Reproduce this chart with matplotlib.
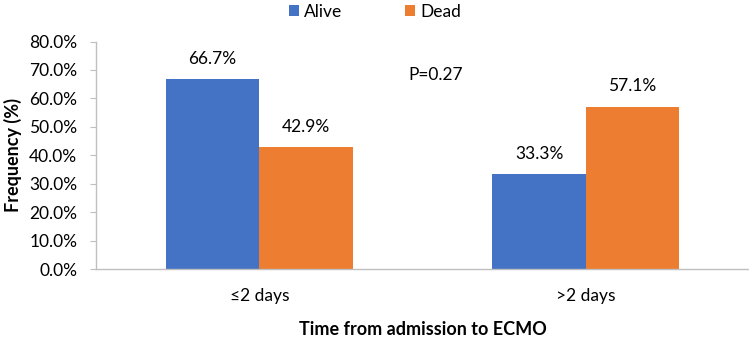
import matplotlib
matplotlib.use("Agg")
import matplotlib.pyplot as plt
import numpy as np
from matplotlib.ticker import FuncFormatter

categories = ["≤2 days", ">2 days"]
alive = [66.7, 33.3]
dead = [42.9, 57.1]
series_names = ["Alive", "Dead"]
yticks = [0, 10, 20, 30, 40, 50, 60, 70, 80]

plt.rcParams['font.family'] = ['Lato', 'DejaVu Sans']
FS = 12.5

fig = plt.figure(figsize=(7.49, 3.37), dpi=100)
ax = fig.add_axes([96/749, 1-269/337, (749-96)/749, (269-41.5)/337])

x = np.arange(len(categories))
w = 0.286
b1 = ax.bar(x - w/2, alive, w, color="#4472C4", label=series_names[0])
b2 = ax.bar(x + w/2, dead, w, color="#ED7D31", label=series_names[1])

for bars, vals in ((b1, alive), (b2, dead)):
    for r, v in zip(bars, vals):
        ax.annotate(f"{v:.1f}%", (r.get_x() + r.get_width()/2, v), xytext=(0, 9),
                    textcoords="offset points", ha="center", va="bottom", fontsize=FS)

ax.text(0.54, 68.2, "P=0.27", ha="center", va="center", fontsize=FS)

ax.set_xlim(-0.5, 1.5)
ax.set_ylim(0, 80)
ax.set_yticks(yticks)
ax.yaxis.set_major_formatter(FuncFormatter(lambda v, p: f"{v:.1f}%"))
ax.set_xticks(x)
ax.set_xticklabels(categories)
ax.tick_params(axis="x", length=0, labelsize=FS, pad=14)
ax.tick_params(axis="y", length=4.5, color="#BFBFBF", labelsize=FS, pad=9)
for s in ("top", "right"):
    ax.spines[s].set_visible(False)
for s in ("left", "bottom"):
    ax.spines[s].set_color("#BFBFBF")
    ax.spines[s].set_linewidth(1.0)

ax.set_xlabel("Time from admission to ECMO", fontsize=13, fontweight="bold", labelpad=12)
ax.set_ylabel("Frequency (%)", fontsize=13, fontweight="bold", labelpad=5)

leg = fig.legend(handles=[b1, b2], loc="center", bbox_to_anchor=(375/749, 1-12/337), ncol=2,
                 frameon=False, fontsize=FS, handlelength=0.6, handleheight=0.6,
                 columnspacing=3.6, handletextpad=0.3)

fig.savefig("out.png", dpi=100)
